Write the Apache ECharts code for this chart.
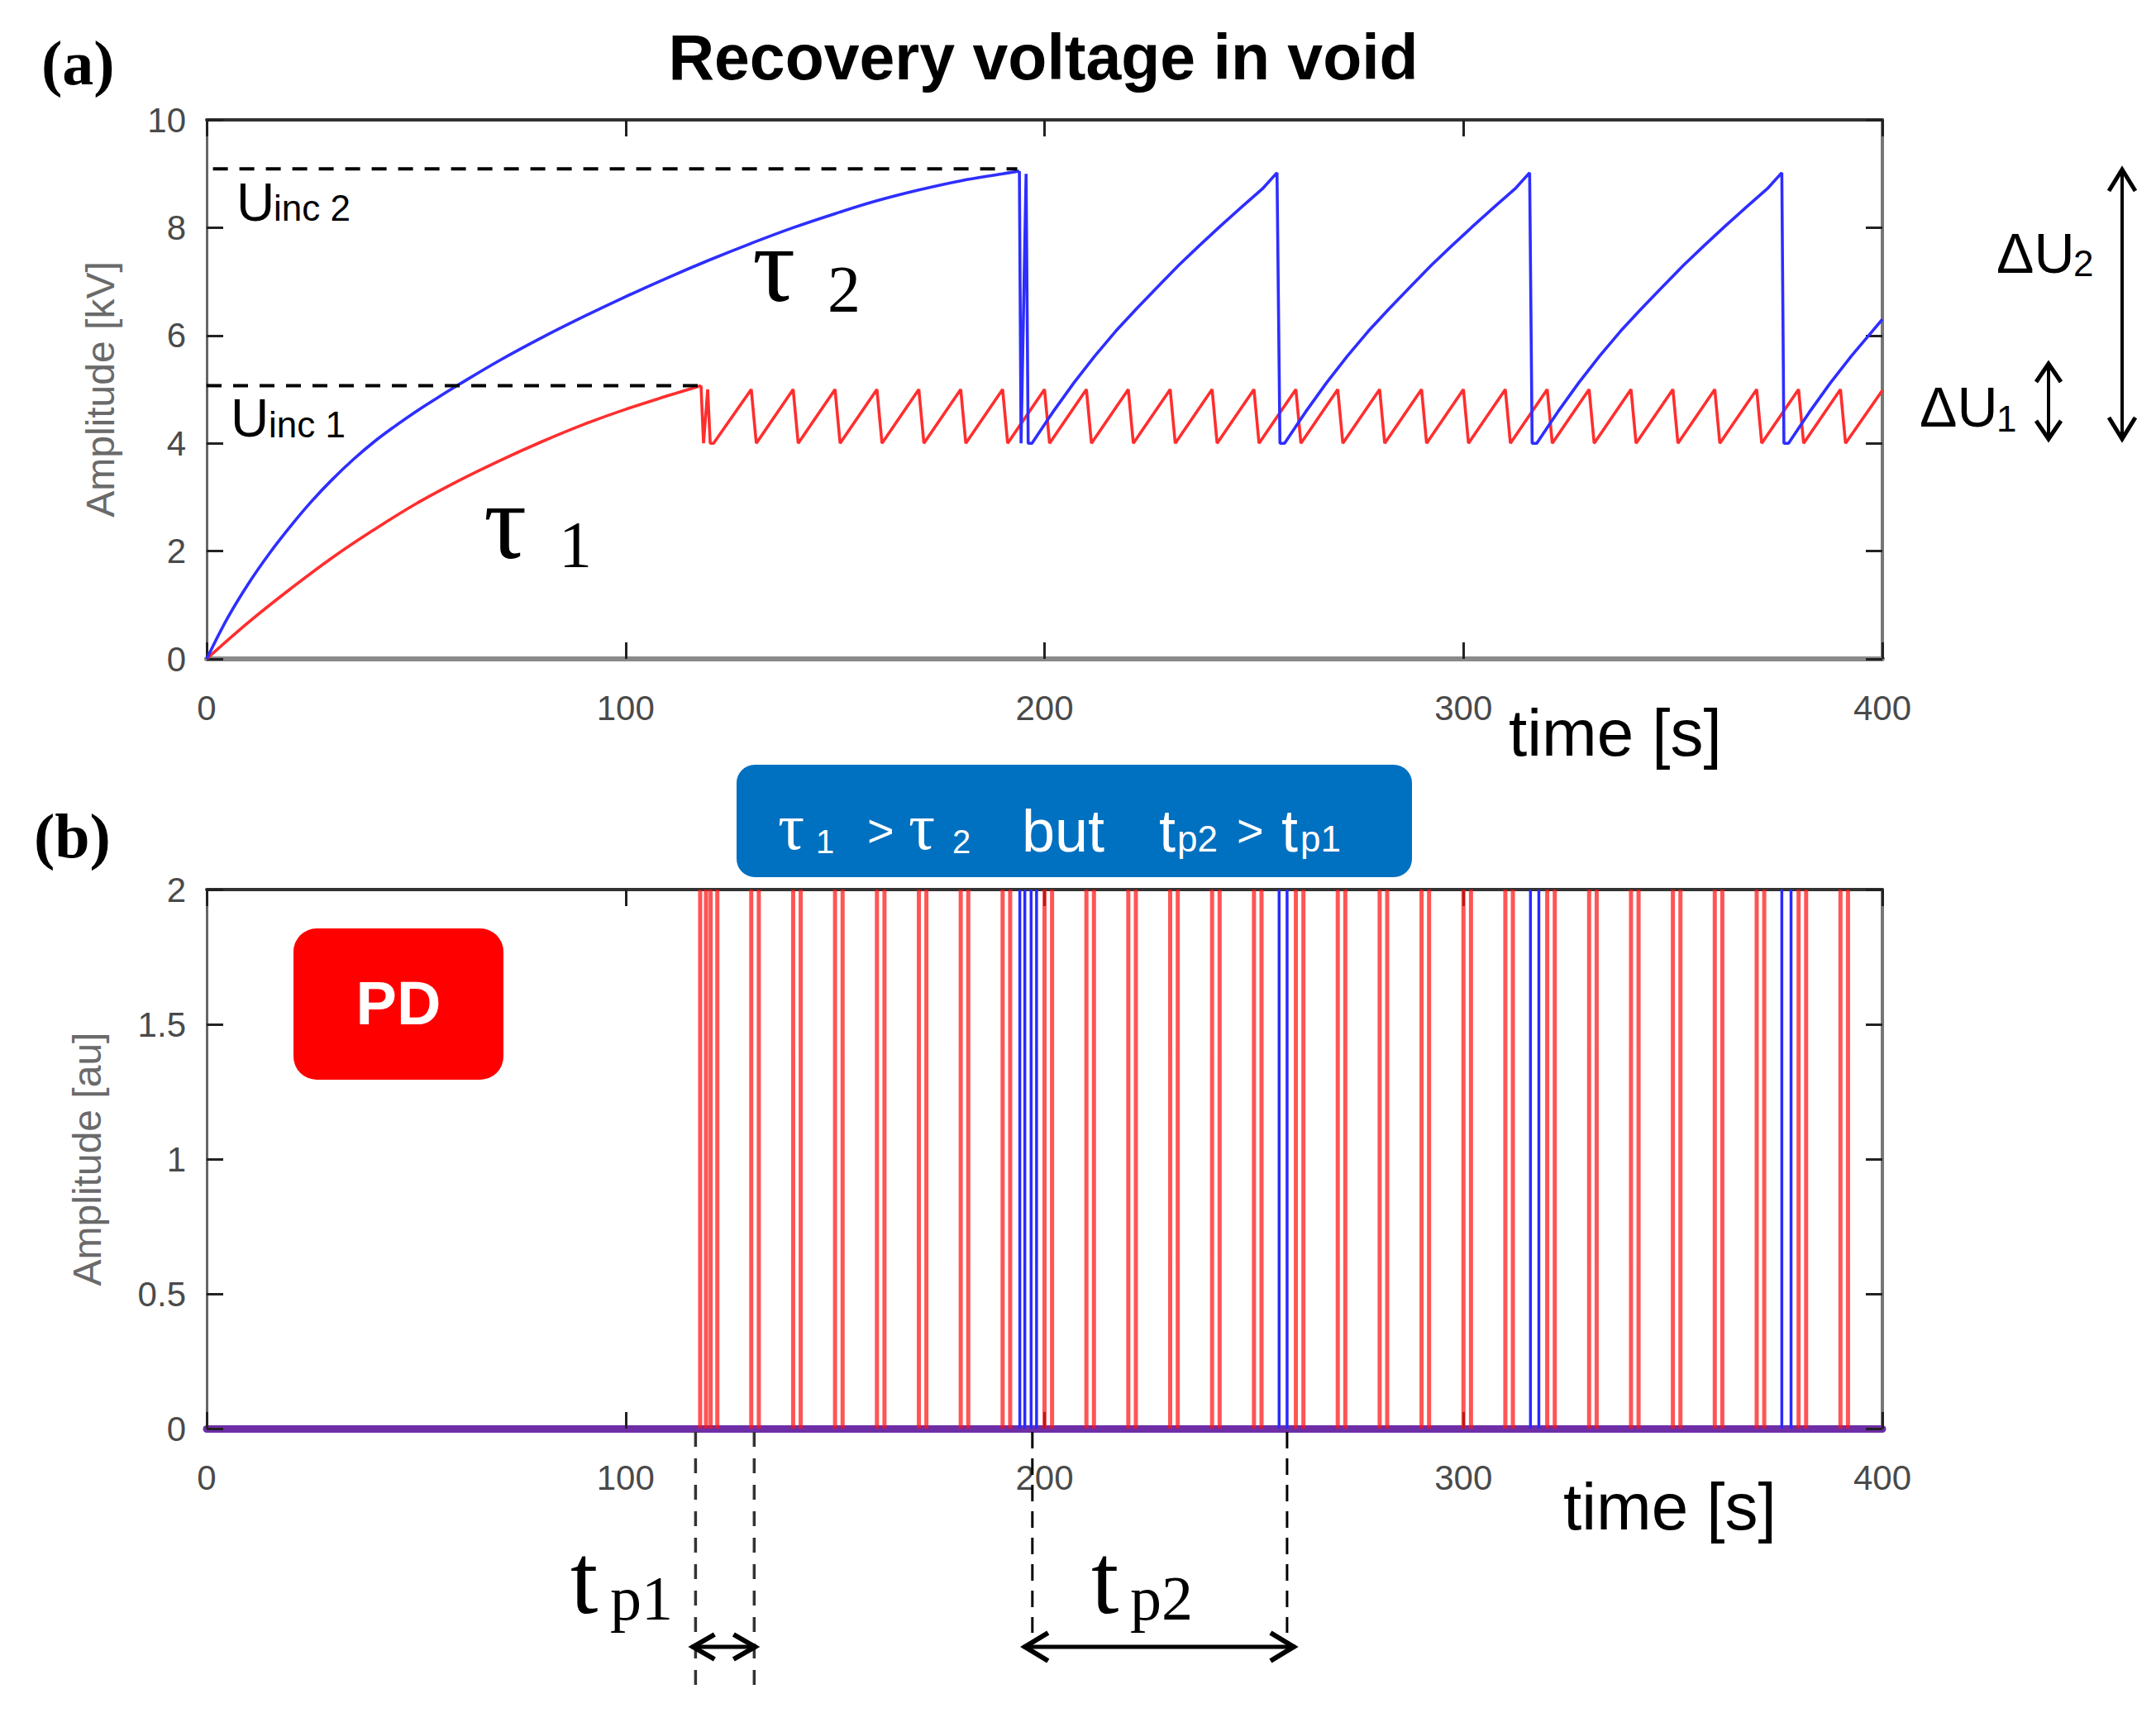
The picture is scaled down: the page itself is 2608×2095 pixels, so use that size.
<!DOCTYPE html>
<html><head><meta charset="utf-8">
<script src="https://cdn.jsdelivr.net/npm/echarts/dist/echarts.min.js"></script>
<style>html,body{margin:0;padding:0;background:#fff;}#c{width:2608px;height:2095px;}</style>
</head><body><div id="c"></div>
<script>
// ---------- data ----------
const xTicks = [0, 100, 200, 300, 400];
const yTicksTop = [0, 2, 4, 6, 8, 10];
const yTicksBottom = [0, 0.5, 1, 1.5, 2];

// red: recovery with tau1, then sawtooth between ~4 and ~5 kV
const redRise = [[0,0],[10,0.68],[20,1.3],[30,1.88],[40,2.4],[50,2.88],[60,3.3],[70,3.68],[80,4.03],[90,4.35],[100,4.63],[110,4.88],[118,5.07]];
const redFirstDrops = [[118,5.07],[118.6,4.0],[119.6,5.0],[120.2,4.0],[121.0,4.0]];
const redTeeth = [[130,5.0],[131.2,4.0],[140,5.0],[141.2,4.0],[150,5.0],[151.2,4.0],[160,5.0],[161.2,4.0],[170,5.0],[171.2,4.0],[180,5.0],[181.2,4.0],[190,5.0],[191.2,4.0],[200,5.0],[201.2,4.0],[210,5.0],[211.2,4.0],[220,5.0],[221.2,4.0],[230,5.0],[231.2,4.0],[240,5.0],[241.2,4.0],[250,5.0],[251.2,4.0],[260,5.0],[261.2,4.0],[270,5.0],[271.2,4.0],[280,5.0],[281.2,4.0],[290,5.0],[291.2,4.0],[300,5.0],[301.2,4.0],[310,5.0],[311.2,4.0],[320,5.0],[321.2,4.0],[330,5.0],[331.2,4.0],[340,5.0],[341.2,4.0],[350,5.0],[351.2,4.0],[360,5.0],[361.2,4.0],[370,5.0],[371.2,4.0],[380,5.0],[381.2,4.0],[390,5.0],[391.2,4.0],[400,4.98]];

// blue: recovery with tau2, then slow sawtooth between ~4 and ~9 kV
const blueRise = [[0,0],[5,0.76],[10,1.4],[15,1.96],[20,2.46],[25,2.92],[30,3.33],[35,3.7],[40,4.03],[45,4.32],[50,4.59],[55,4.84],[60,5.08],[70,5.54],[80,5.96],[90,6.35],[100,6.72],[110,7.07],[120,7.4],[130,7.71],[140,8.0],[150,8.26],[160,8.5],[170,8.7],[180,8.87],[190,9.0],[194,9.05]];
const blueFirstDrops = [[194,9.05],[194.4,4.0],[195.6,9.0],[196.1,4.0]];
const blueCycle1 = [[197.0,4.0],[202.0,4.58],[207.0,5.12],[212.0,5.62],[217.0,6.08],[222.0,6.5],[227.0,6.9],[232.0,7.3],[237.0,7.67],[242.0,8.03],[247.0,8.38],[252.0,8.72],[255.5,9.02],[256.2,4.0]];
const blueCycle2 = [[257.3,4.0],[262.3,4.58],[267.3,5.12],[272.3,5.62],[277.3,6.08],[282.3,6.5],[287.3,6.9],[292.3,7.3],[297.3,7.67],[302.3,8.03],[307.3,8.38],[312.3,8.72],[315.8,9.02],[316.4,4.0]];
const blueCycle3 = [[317.5,4.0],[322.5,4.58],[327.5,5.12],[332.5,5.62],[337.5,6.08],[342.5,6.5],[347.5,6.9],[352.5,7.3],[357.5,7.67],[362.5,8.03],[367.5,8.38],[372.5,8.72],[376.0,9.02],[376.5,4.0]];
const blueCycle4 = [[377.6,4.0],[382.6,4.58],[387.6,5.12],[392.6,5.62],[397.6,6.08],[400,6.3]];

// inception voltage levels (dashed)
const uinc2Line = [[1.5,9.09],[193.5,9.09]];
const uinc1Line = [[0,5.07],[117.5,5.07]];

// PD pulses (start, end) in seconds, amplitude 2 au
const pdAmplitude = 2;
const redPulses = [[117.8,119.2],[120.3,121.9],[130,131.8],[140,141.8],[150,151.8],[160,161.8],[170,171.8],[180,181.8],[190,191.8],[200,201.8],[210,211.8],[220,221.8],[230,231.8],[240,241.8],[250,251.8],[260,261.8],[270,271.8],[280,281.8],[290,291.8],[300,301.8],[310,311.8],[320,321.8],[330,331.8],[340,341.8],[350,351.8],[360,361.8],[370,371.8],[380,381.8],[390,391.8]];
const bluePulses = [[194.1,195.3],[196.8,198.1],[256.0,257.9],[316.0,318.0],[376.0,378.2]];

// tp annotation times
const tp1Times = [116.7, 130.7];
const tp2Times = [197.1, 257.9];

// ---------- build ----------
const SANS = '"Liberation Sans", Arial, sans-serif';
const SERIF = '"Liberation Serif", "Times New Roman", serif';

const redRest = [].concat(redFirstDrops, redTeeth);
const blueRest = [].concat(blueFirstDrops, blueCycle1, blueCycle2, blueCycle3, blueCycle4);

function pulseLines(pulses) {
  const out = [];
  pulses.forEach(p => {
    p.forEach(t => { out.push([t, 0], [t, pdAmplitude], ['-', '-']); });
  });
  return out;
}

function xAx(grid, pos, showLabel, lineColor, lineWidth) {
  return {
    type: 'value', gridIndex: grid, position: pos, min: 0, max: 400, interval: 100,
    axisLine: { show: true, onZero: false, lineStyle: { color: lineColor, width: lineWidth } },
    axisTick: { show: true, inside: true, length: 20, lineStyle: { color: '#222', width: 3 } },
    axisLabel: { show: showLabel, margin: 38, fontSize: 42, color: '#4a4a4a', fontFamily: SANS },
    splitLine: { show: false }
  };
}
function yAx(grid, pos, showLabel, max, interval, lineColor, lineWidth, name, gap) {
  const a = {
    type: 'value', gridIndex: grid, position: pos, min: 0, max: max, interval: interval,
    axisLine: { show: true, onZero: false, lineStyle: { color: lineColor, width: lineWidth } },
    axisTick: { show: true, inside: true, length: 20, lineStyle: { color: '#222', width: 3 } },
    axisLabel: { show: showLabel, margin: 25, fontSize: 42, color: '#4a4a4a', fontFamily: SANS },
    splitLine: { show: false }
  };
  if (name) {
    a.name = name; a.nameLocation = 'middle'; a.nameGap = gap; a.nameRotate = 90;
    a.nameMoveOverlap = false;
    a.nameTextStyle = { fontSize: 48, color: '#6a6a6a', fontFamily: SANS };
  }
  return a;
}

const chart = echarts.init(document.getElementById('c'), null, { renderer: 'svg', width: 2608, height: 2095 });

function lineSeries(xi, yi, data, color, width, z, smooth) {
  const s = { type: 'line', xAxisIndex: xi, yAxisIndex: yi, data: data, showSymbol: false, symbol: 'none',
    lineStyle: { color: color, width: width }, z: z, connectNulls: false };
  if (smooth) { s.smooth = 0.4; }
  return s;
}

const option = {
  animation: false,
  backgroundColor: '#ffffff',
  grid: [
    { left: 250, top: 145, width: 2027, height: 652, outerBoundsMode: 'none', containLabel: false },
    { left: 250, top: 1076, width: 2027, height: 652, outerBoundsMode: 'none', containLabel: false }
  ],
  xAxis: [
    xAx(0, 'bottom', true, '#8a8a8a', 6),
    xAx(0, 'top', false, '#333', 4),
    xAx(1, 'bottom', true, '#6e2ea6', 9),
    xAx(1, 'top', false, '#333', 4)
  ],
  yAxis: [
    yAx(0, 'left', true, 10, 2, '#666', 3, 'Amplitude [kV]', 105),
    yAx(0, 'right', false, 10, 2, '#777', 4),
    yAx(1, 'left', true, 2, 0.5, '#666', 3, 'Amplitude [au]', 121),
    yAx(1, 'right', false, 2, 0.5, '#777', 4)
  ],
  series: [
    lineSeries(0, 0, redRise, '#ff2e2e', 3.6, 3, true),
    lineSeries(0, 0, redRest, '#ff2e2e', 3.6, 3, false),
    lineSeries(0, 0, blueRise, '#2e2eff', 3.6, 4, true),
    lineSeries(0, 0, blueRest, '#2e2eff', 3.6, 4, false),
    { type: 'line', xAxisIndex: 0, yAxisIndex: 0, data: uinc2Line, showSymbol: false, symbol: 'none',
      lineStyle: { color: '#000', width: 4, type: [18, 14] }, z: 5 },
    { type: 'line', xAxisIndex: 0, yAxisIndex: 0, data: uinc1Line, showSymbol: false, symbol: 'none',
      lineStyle: { color: '#000', width: 4, type: [18, 14] }, z: 5 },
    lineSeries(2, 2, pulseLines(redPulses), 'rgba(255,20,20,0.72)', 5, 3, false),
    lineSeries(2, 2, pulseLines(bluePulses), '#2a2aff', 3.5, 4, false)
  ]
};
chart.setOption(option);

// ---------- annotations ----------
function txt(str, x, baseline, fs, family, color, weight, align) {
  return { type: 'text', x: x, y: baseline - 0.31 * fs, z: 100,
    style: { text: str, fontSize: fs, fontFamily: family, fontWeight: weight || 'normal',
      fill: color || '#000', align: align || 'left', verticalAlign: 'middle' } };
}
function ln(x1, y1, x2, y2, color, w, dash) {
  const s = { stroke: color, lineWidth: w };
  if (dash) s.lineDash = dash;
  return { type: 'line', z: 90, shape: { x1: x1, y1: y1, x2: x2, y2: y2 }, style: s };
}
function pl(points, color, w) {
  return { type: 'polyline', z: 90, shape: { points: points }, style: { stroke: color, lineWidth: w, fill: null, lineJoin: 'miter' } };
}
function arrowH(x1, x2, y, hl, hw, w) {
  return [ln(x1, y, x2, y, '#000', w),
    pl([[x1 + hl, y - hw], [x1 + 2, y], [x1 + hl, y + hw]], '#000', w + 1),
    pl([[x2 - hl, y - hw], [x2 - 2, y], [x2 - hl, y + hw]], '#000', w + 1)];
}
function arrowV(x, y1, y2, hl, hw, w) {
  return [ln(x, y1, x, y2, '#000', w),
    pl([[x - hw, y1 + hl], [x, y1 + 2], [x + hw, y1 + hl]], '#000', w + 1),
    pl([[x - hw, y2 - hl], [x, y2 - 2], [x + hw, y2 - hl]], '#000', w + 1)];
}

const px = t => chart.convertToPixel({ gridIndex: 1 }, [t, 0])[0];
const yBase = chart.convertToPixel({ gridIndex: 1 }, [0, 0])[1];

const g = [];
// panel labels and title
g.push(txt('(a)', 50, 100, 76, SERIF, '#000', 'bold'));
g.push(txt('(b)', 41, 1035, 76, SERIF, '#000', 'bold'));
g.push(txt('Recovery voltage in void', 1262, 93, 77, SANS, '#000', 'bold', 'center'));
g.push(txt('time [s]', 1825, 911, 80, SANS, '#000'));
g.push(txt('time [s]', 1891, 1847, 80, SANS, '#000'));
// Uinc labels
g.push(txt('U', 286, 265, 64, SANS)); g.push(txt('inc 2', 331, 265, 44, SANS));
g.push(txt('U', 279, 526, 64, SANS)); g.push(txt('inc 1', 325, 527, 44, SANS));
// tau labels
g.push(txt('τ', 910, 360, 130, SERIF)); g.push(txt('2', 1001, 375, 80, SERIF));
g.push(txt('τ', 585, 671, 130, SERIF)); g.push(txt('1', 676, 684, 80, SERIF));
// delta U labels and arrows
g.push(txt('ΔU', 2415, 327, 68, SANS)); g.push(txt('2', 2508, 332, 44, SANS));
g.push(txt('ΔU', 2322, 513, 68, SANS)); g.push(txt('1', 2415, 520, 44, SANS));
arrowV(2567, 203, 533, 28, 16, 4).forEach(e => g.push(e));
arrowV(2478, 438, 533, 24, 15, 4).forEach(e => g.push(e));
// banner
g.push({ type: 'rect', z: 80, shape: { x: 891, y: 925, width: 817, height: 136, r: 22 }, style: { fill: '#0070C0' } });
g.push(txt('τ', 941, 1025, 80, SERIF, '#fff')); g.push(txt('1', 987, 1030, 40, SANS, '#fff'));
g.push(txt('>', 1049, 1022, 56, SANS, '#fff'));
g.push(txt('τ', 1099, 1025, 80, SERIF, '#fff')); g.push(txt('2', 1152, 1030, 40, SANS, '#fff'));
g.push(txt('but', 1236, 1027, 72, SANS, '#fff'));
g.push(txt('t', 1402, 1027, 72, SANS, '#fff')); g.push(txt('p2', 1424, 1028, 44, SANS, '#fff'));
g.push(txt('>', 1496, 1022, 56, SANS, '#fff'));
g.push(txt('t', 1550, 1027, 72, SANS, '#fff')); g.push(txt('p1', 1573, 1028, 44, SANS, '#fff'));
// PD box
g.push({ type: 'rect', z: 80, shape: { x: 355, y: 1123, width: 254, height: 183, r: 28 }, style: { fill: '#FF0000' } });
g.push(txt('PD', 482, 1236, 74, SANS, '#fff', 'bold', 'center'));
// tp annotations
tp1Times.forEach(t => g.push(ln(px(t), yBase + 4, px(t), 2050, '#333', 3.5, [18, 14])));
tp2Times.forEach(t => g.push(ln(px(t), yBase + 4, px(t), 1975, '#000', 3, [20, 12])));
arrowH(px(tp1Times[0]) - 5, px(tp1Times[1]) + 3, 1992, 28, 15, 5).forEach(e => g.push(e));
arrowH(px(tp2Times[0]) - 11, px(tp2Times[1]) + 10, 1992, 30, 17, 5).forEach(e => g.push(e));
g.push(txt('t', 690, 1948, 120, SERIF)); g.push(txt('p1', 738, 1957, 76, SERIF));
g.push(txt('t', 1320, 1948, 120, SERIF)); g.push(txt('p2', 1367, 1957, 76, SERIF));

chart.setOption({ graphic: g });
</script>
</body></html>
